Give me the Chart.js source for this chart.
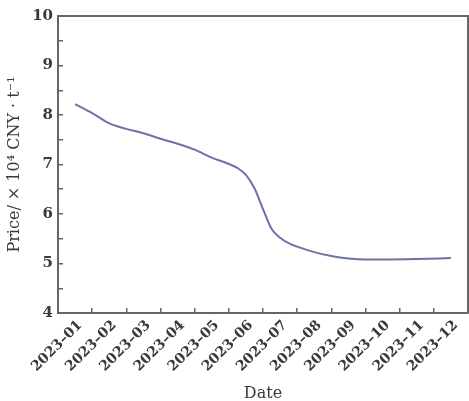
<!DOCTYPE html>
<html>
<head>
<meta charset="utf-8">
<script src="https://cdn.jsdelivr.net/npm/chart.js@4.4.0/dist/chart.umd.min.js"></script>
<style>
    html, body { margin: 0; padding: 0; background: #fff; }
    #wrap { width: 469px; height: 401px; }
</style>
</head>
<body>
<div id="wrap"><canvas id="priceChart"></canvas></div>
<script>
// month labels on the category axis
const months = ['2023–01', '2023–02', '2023–03', '2023–04', '2023–05', '2023–06',
    '2023–07', '2023–08', '2023–09', '2023–10', '2023–11', '2023–12'];
// curve: position in months (0 = 2023-01) and price
const monthPos = [0, 0.5, 1, 1.5, 2, 2.5, 3, 3.5, 4, 4.5, 4.75, 5, 5.25, 5.5, 5.75,
    6, 6.25, 6.5, 7, 7.5, 8, 8.5, 9, 10, 11];
const price = [8.22, 8.04, 7.83, 7.72, 7.63, 7.52, 7.42, 7.30, 7.14, 7.01, 6.93, 6.79,
    6.52, 6.10, 5.70, 5.52, 5.41, 5.34, 5.23, 5.15, 5.10, 5.08, 5.08, 5.09, 5.11];
const yTicks = [4, 5, 6, 7, 8, 9, 10];

(() => {
    'use strict'
    const chart = document.querySelector('#priceChart') ?? '';
    if (chart == "") return false;

    Chart.defaults.font.family = "'DejaVu Serif', serif";
    Chart.defaults.color = '#3a3a3a';

    const axisColor = '#666';

    // top and right sides of the frame
    const frame = {
        id: 'frame',
        afterDraw(c) {
            const a = c.chartArea, ctx = c.ctx;
            ctx.save();
            ctx.strokeStyle = axisColor;
            ctx.lineWidth = 2;
            ctx.beginPath();
            ctx.moveTo(a.left, a.top);
            ctx.lineTo(a.right, a.top);
            ctx.lineTo(a.right, a.bottom);
            ctx.stroke();
            ctx.restore();
        }
    };

    new Chart(chart, {
        type: 'line',
        data: {
            labels: months,
            datasets: [{
                label: 'Price',
                data: monthPos.map((m, i) => ({ x: m, y: price[i] })),
                xAxisID: 'xv',
                borderColor: '#6c73a6',
                borderWidth: 2,
                pointRadius: 0,
                fill: false,
                cubicInterpolationMode: 'monotone'
            }]
        },
        options: {
            responsive: true,
            maintainAspectRatio: false,
            animation: false,
            layout: { padding: { top: 16, right: 1, left: 0, bottom: 0 } },
            plugins: { legend: { display: false }, tooltip: { enabled: false } },
            scales: {
                x: {
                    type: 'category',
                    offset: true,
                    afterFit: s => { s.height = 88; s.paddingLeft = 0; s.paddingRight = 0; },
                    grid: { offset: true, drawOnChartArea: false, tickLength: -5, color: axisColor, lineWidth: 1.5 },
                    border: { color: axisColor, width: 2 },
                    ticks: { autoSkip: false, minRotation: 45, maxRotation: 45, padding: 9, labelOffset: 5, font: { size: 14, weight: 'bold' } },
                    title: { display: true, text: 'Date', font: { size: 16 }, padding: { top: 0, bottom: -2 } }
                },
                xv: {
                    type: 'linear',
                    display: false,
                    min: -0.5,
                    max: 11.5
                },
                y: {
                    min: 4,
                    max: 10,
                    afterFit: s => { s.width = 58; s.paddingTop = 0; s.paddingBottom = 0; },
                    grid: { drawOnChartArea: false, tickLength: -5, color: axisColor, lineWidth: 1.5 },
                    border: { color: axisColor, width: 2 },
                    ticks: {
                        stepSize: 0.5,
                        padding: 10,
                        font: { size: 15, weight: 'bold' },
                        callback: v => yTicks.includes(v) ? String(v) : ''
                    },
                    title: { display: true, text: 'Price/ × 10⁴ CNY · t⁻¹', font: { size: 16 }, padding: { top: 5, bottom: 0 } }
                }
            }
        },
        plugins: [frame]
    });
})();
</script>
</body>
</html>
